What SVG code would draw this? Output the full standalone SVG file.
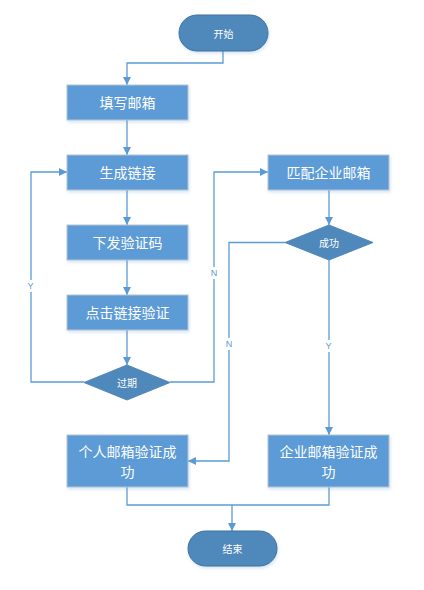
<svg xmlns="http://www.w3.org/2000/svg" width="424" height="590" viewBox="0 0 424 590">
<defs>
<marker id="arr" viewBox="0 0 10 10" refX="10" refY="5" markerWidth="8" markerHeight="8" markerUnits="userSpaceOnUse" orient="auto">
<path d="M0,0 L10,5 L0,10 z" fill="#5b9bd5"/>
</marker>
<filter id="sh" x="-10%" y="-10%" width="130%" height="140%">
<feDropShadow dx="1" dy="2" stdDeviation="1.5" flood-color="#5b9bd5" flood-opacity="0.25"/>
</filter>
</defs>
<style>
.box{fill:#5b9bd5;stroke:#b8c4d0;stroke-width:1;filter:url(#sh)}
.term{fill:#4f88bb;stroke:#41719c;stroke-width:1;filter:url(#sh)}
.dia{fill:#4f88bb;stroke:#4f88bb;stroke-width:1}
.bt{font-family:"Noto Sans CJK SC","Microsoft YaHei",sans-serif;font-size:14px;fill:#ffffff;text-anchor:middle;dominant-baseline:central}
.st{font-family:"Noto Sans CJK SC","Microsoft YaHei",sans-serif;font-size:10px;fill:#ffffff;text-anchor:middle;dominant-baseline:central}
.ln{fill:none;stroke:#5b9bd5;stroke-width:1.3}
.lb{font-family:"Liberation Sans",Arial,sans-serif;font-size:9px;fill:#5b9bd5;text-anchor:middle;dominant-baseline:central}
.lbg{fill:#ffffff}
</style>
<g id="connectors">
<path class="ln" d="M223,51 V63 H127 V85" marker-end="url(#arr)"/>
<path class="ln" d="M127,120 V155" marker-end="url(#arr)"/>
<path class="ln" d="M127,190 V225" marker-end="url(#arr)"/>
<path class="ln" d="M127,260 V295" marker-end="url(#arr)"/>
<path class="ln" d="M127,330 V365" marker-end="url(#arr)"/>
<path class="ln" d="M84,382 H31 V172 H67" marker-end="url(#arr)"/>
<rect class="lbg" x="25" y="280" width="12" height="12"/>
<text class="lb" x="30.5" y="286">Y</text>
<path class="ln" d="M170,382 H214 V172 H268" marker-end="url(#arr)"/>
<rect class="lbg" x="208" y="267" width="12" height="12"/>
<text class="lb" x="214" y="273">N</text>
<path class="ln" d="M329,190 V225" marker-end="url(#arr)"/>
<path class="ln" d="M285,242.5 H229 V461 H188" marker-end="url(#arr)"/>
<rect class="lbg" x="223" y="338" width="12" height="12"/>
<text class="lb" x="229" y="344">N</text>
<path class="ln" d="M329,260 V435" marker-end="url(#arr)"/>
<rect class="lbg" x="323" y="340" width="12" height="12"/>
<text class="lb" x="328.5" y="346">Y</text>
<path class="ln" d="M127,487 V505 H329 V487"/>
<path class="ln" d="M232,505 V531" marker-end="url(#arr)"/>
</g>
<g id="start">
<rect class="term" x="179" y="15" width="89" height="36" rx="18"/>
<text class="st" x="223.5" y="33">开始</text>
</g>
<g id="fill-email">
<rect class="box" x="67" y="85" width="121" height="35"/>
<text class="bt" x="127.5" y="102">填写邮箱</text>
</g>
<g id="gen-link">
<rect class="box" x="67" y="155" width="121" height="35"/>
<text class="bt" x="127.5" y="172">生成链接</text>
</g>
<g id="send-code">
<rect class="box" x="67" y="225" width="121" height="35"/>
<text class="bt" x="127.5" y="242">下发验证码</text>
</g>
<g id="click-verify">
<rect class="box" x="67" y="295" width="121" height="35"/>
<text class="bt" x="127.5" y="312">点击链接验证</text>
</g>
<g id="expired">
<polygon class="dia" points="127,365 170,382.5 127,400 84,382.5"/>
<text class="st" x="127" y="382.5">过期</text>
</g>
<g id="match-ent">
<rect class="box" x="268" y="155" width="121" height="35"/>
<text class="bt" x="328.5" y="172">匹配企业邮箱</text>
</g>
<g id="success">
<polygon class="dia" points="329,225 373,242.5 329,260 285,242.5"/>
<text class="st" x="329" y="242.5">成功</text>
</g>
<g id="personal-ok">
<rect class="box" x="67" y="435" width="121" height="52"/>
<text class="bt" x="127.5" y="450.5">个人邮箱验证成</text>
<text class="bt" x="127.5" y="471">功</text>
</g>
<g id="ent-ok">
<rect class="box" x="268" y="435" width="121" height="52"/>
<text class="bt" x="328.5" y="450.5">企业邮箱验证成</text>
<text class="bt" x="328.5" y="471">功</text>
</g>
<g id="end">
<rect class="term" x="188" y="531" width="89" height="35" rx="17.5"/>
<text class="st" x="232.5" y="548.5">结束</text>
</g>
</svg>
